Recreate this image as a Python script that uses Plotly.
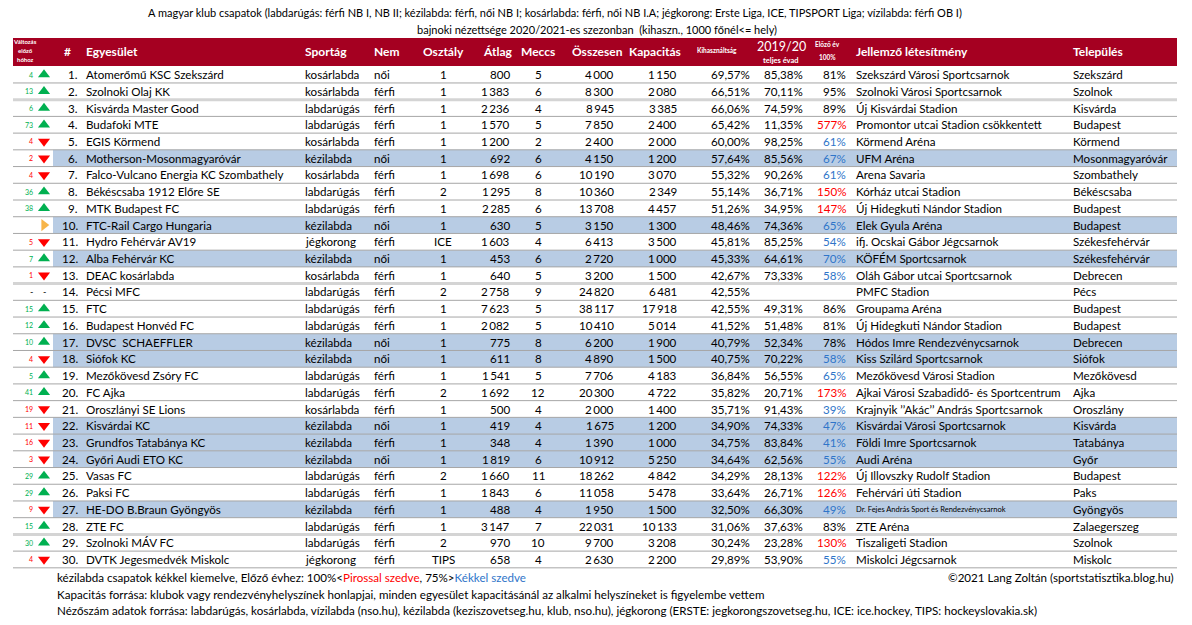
import plotly.graph_objects as go

# ---------------- data ----------------
ranks = list(range(1, 31))
change_vals = [4, 13, 6, 73, 4, 2, 4, 36, 38, None, 5, 7, 1, None, 15, 12, 10, 4, 5, 41,
               19, 11, 16, 3, 29, 29, 9, 15, 30, 4]
change_dir = ["up", "up", "up", "up", "down", "down", "down", "up", "up", "flat",
              "down", "up", "down", "none", "up", "up", "up", "down", "up", "up",
              "down", "down", "down", "down", "up", "up", "down", "up", "up", "down"]
clubs = ["Atomerőmű KSC Szekszárd", "Szolnoki Olaj KK", "Kisvárda Master Good", "Budafoki MTE",
         "EGIS Körmend", "Motherson-Mosonmagyaróvár", "Falco-Vulcano Energia KC Szombathely",
         "Békéscsaba 1912 Előre SE", "MTK Budapest FC", "FTC-Rail Cargo Hungaria",
         "Hydro Fehérvár AV19", "Alba Fehérvár KC", "DEAC kosárlabda", "Pécsi MFC", "FTC",
         "Budapest Honvéd FC", "DVSC  SCHAEFFLER", "Siófok KC", "Mezőkövesd Zsóry FC", "FC Ajka",
         "Oroszlányi SE Lions", "Kisvárdai KC", "Grundfos Tatabánya KC", "Győri Audi ETO KC",
         "Vasas FC", "Paksi FC", "HE-DO B.Braun Gyöngyös", "ZTE FC", "Szolnoki MÁV FC",
         "DVTK Jegesmedvék Miskolc"]
sports = ["kosárlabda", "kosárlabda", "labdarúgás", "labdarúgás", "kosárlabda", "kézilabda",
          "kosárlabda", "labdarúgás", "labdarúgás", "kézilabda", "jégkorong", "kézilabda",
          "kosárlabda", "labdarúgás", "labdarúgás", "labdarúgás", "kézilabda", "kézilabda",
          "labdarúgás", "labdarúgás", "kosárlabda", "kézilabda", "kézilabda", "kézilabda",
          "labdarúgás", "labdarúgás", "kézilabda", "labdarúgás", "labdarúgás", "jégkorong"]
gender = ["női", "férfi", "férfi", "férfi", "férfi", "női", "férfi", "férfi", "férfi", "női",
          "férfi", "női", "férfi", "férfi", "férfi", "férfi", "női", "női", "férfi", "férfi",
          "férfi", "női", "férfi", "női", "férfi", "férfi", "férfi", "férfi", "férfi", "férfi"]
division = ["1", "1", "1", "1", "1", "1", "1", "2", "1", "1", "ICE", "1", "1", "2", "1", "1",
            "1", "1", "1", "2", "1", "1", "1", "1", "2", "1", "1", "1", "2", "TIPS"]
avg = [800, 1383, 2236, 1570, 1200, 692, 1698, 1295, 2285, 630, 1603, 453, 640, 2758, 7623,
       2082, 775, 611, 1541, 1692, 500, 419, 348, 1819, 1660, 1843, 488, 3147, 970, 658]
matches = [5, 6, 4, 5, 2, 6, 6, 8, 6, 5, 4, 6, 5, 9, 5, 5, 8, 8, 5, 12, 4, 4, 4, 6, 11, 6,
           4, 7, 10, 4]
total = [4000, 8300, 8945, 7850, 2400, 4150, 10190, 10360, 13708, 3150, 6413, 2720, 3200,
         24820, 38117, 10410, 6200, 4890, 7706, 20300, 2000, 1675, 1390, 10912, 18262, 11058,
         1950, 22031, 9700, 2630]
capacity = [1150, 2080, 3385, 2400, 2000, 1200, 3070, 2349, 4457, 1300, 3500, 1000, 1500,
            6481, 17918, 5014, 1900, 1500, 4183, 4722, 1400, 1200, 1000, 5250, 4842, 5478,
            1500, 10133, 3208, 2200]
util = [69.57, 66.51, 66.06, 65.42, 60.00, 57.64, 55.32, 55.14, 51.26, 48.46, 45.81, 45.33,
        42.67, 42.55, 42.55, 41.52, 40.79, 40.75, 36.84, 35.82, 35.71, 34.90, 34.75, 34.64,
        34.29, 33.64, 32.50, 31.06, 30.24, 29.89]
prev_util = [85.38, 70.11, 74.59, 11.35, 98.25, 85.56, 90.26, 36.71, 34.95, 74.36, 85.25,
             64.61, 73.33, None, 49.31, 51.48, 52.34, 70.22, 56.55, 20.71, 91.43, 74.33,
             83.84, 62.56, 28.13, 26.71, 66.30, 37.63, 23.28, 53.90]
vs_prev = [81, 95, 89, 577, 61, 67, 61, 150, 147, 65, 54, 70, 58, None, 86, 81, 78, 58, 65,
           173, 39, 47, 41, 55, 122, 126, 49, 83, 130, 55]
venues = ["Szekszárd Városi Sportcsarnok", "Szolnoki Városi Sportcsarnok", "Új Kisvárdai Stadion",
          "Promontor utcai Stadion csökkentett", "Körmend Aréna", "UFM Aréna", "Arena Savaria",
          "Kórház utcai Stadion", "Új Hidegkuti Nándor Stadion", "Elek Gyula Aréna",
          "ifj. Ocskai Gábor Jégcsarnok", "KÖFÉM Sportcsarnok", "Oláh Gábor utcai Sportcsarnok",
          "PMFC Stadion", "Groupama Aréna", "Új Hidegkuti Nándor Stadion",
          "Hódos Imre Rendezvénycsarnok", "Kiss Szilárd Sportcsarnok", "Mezőkövesd Városi Stadion",
          "Ajkai Városi Szabadidő- és Sportcentrum", "Krajnyik ’’Akác’’ András Sportcsarnok",
          "Kisvárdai Városi Sportcsarnok", "Földi Imre Sportcsarnok", "Audi Aréna",
          "Új Illovszky Rudolf Stadion", "Fehérvári úti Stadion",
          "Dr. Fejes András Sport és Rendezvénycsarnok", "ZTE Aréna", "Tiszaligeti Stadion",
          "Miskolci Jégcsarnok"]
cities = ["Szekszárd", "Szolnok", "Kisvárda", "Budapest", "Körmend", "Mosonmagyaróvár",
          "Szombathely", "Békéscsaba", "Budapest", "Budapest", "Székesfehérvár", "Székesfehérvár",
          "Debrecen", "Pécs", "Budapest", "Budapest", "Debrecen", "Siófok", "Mezőkövesd", "Ajka",
          "Oroszlány", "Kisvárda", "Tatabánya", "Győr", "Budapest", "Paks", "Gyöngyös",
          "Zalaegerszeg", "Szolnok", "Miskolc"]

title_lines = ["A magyar klub csapatok (labdarúgás: férfi NB I, NB II; kézilabda: férfi, női NB I; "
               "kosárlabda: férfi, női NB I.A; jégkorong: Erste Liga, ICE, TIPSPORT Liga; vízilabda: férfi OB I)",
               "bajnoki nézettsége 2020/2021-es szezonban  (kihaszn., 1000 főnél<= hely)"]

# ---------------- style ----------------
FONT = "Lato"
FS = 11.6
HEAD_RED = "#A50021"
BLUE_FILL = "#B8CCE4"
GREEN = "#00B050"
RED = "#FF0000"
BLUE_TXT = "#2F75C9"
ORANGE = "#F7B54A"

W, H = 1192, 625
X_L, X_R = 13, 1177
Y_HEAD_TOP, Y_HEAD_BOT = 38, 66
Y_ROW1 = 74.6
ROW_H = 16.72


def row_y(r):
    return Y_ROW1 + (r - 1) * ROW_H


def fmt_int(v):
    return f"{v:,}".replace(",", "\u2009")


def fmt_pct(v):
    return f"{v:.2f}".replace(".", ",") + "%"


fig = go.Figure()
shapes = []
ann = []


def text(x, y, s, anchor="left", size=FS, color="black", bold=False):
    if bold:
        s = f"<b>{s}</b>"
    ann.append(dict(x=x, y=y, xref="x", yref="y", text=s, showarrow=False,
                    xanchor=anchor, yanchor="middle",
                    font=dict(family=FONT, size=size, color=color)))


# header band
shapes.append(dict(type="rect", xref="x", yref="y", x0=X_L, x1=X_R, y0=Y_HEAD_TOP,
                   y1=Y_HEAD_BOT, fillcolor=HEAD_RED, line=dict(width=0), layer="below"))

# highlighted (kézilabda) rows
for r, sp in zip(ranks, sports):
    if sp == "kézilabda":
        shapes.append(dict(type="rect", xref="x", yref="y", x0=53, x1=X_R,
                           y0=row_y(r) - ROW_H / 2, y1=row_y(r) + ROW_H / 2,
                           fillcolor=BLUE_FILL, line=dict(width=0), layer="below"))

# row separators
light_after = {2, 13, 28}
for r in ranks:
    yb = row_y(r) + ROW_H / 2
    if r in light_after:
        shapes.append(dict(type="line", xref="x", yref="y", x0=X_L, x1=X_R, y0=yb, y1=yb,
                           line=dict(color="#D4D4D4", width=3), layer="below"))
    else:
        shapes.append(dict(type="line", xref="x", yref="y", x0=X_L, x1=X_R, y0=yb, y1=yb,
                           line=dict(color="#A6A6A6", width=1), layer="below"))

# title
text(555, 12, title_lines[0], "center", 11)
text(597, 29, title_lines[1], "center", 11)

# header labels
HW = "white"
text(25, 41, "Változás", "center", 6, HW, True)
text(25, 50, "előző", "center", 6, HW, True)
text(25, 59, "hóhoz", "center", 6, HW, True)
hy = 51
text(67, hy, "#", "center", 12, HW, True)
text(84, hy, "Egyesület", "left", 12, HW, True)
text(303, hy, "Sportág", "left", 12, HW, True)
text(372, hy, "Nem", "left", 12, HW, True)
text(443, hy, "Osztály", "center", 12, HW, True)
text(497, hy, "Átlag", "center", 12, HW, True)
text(538, hy, "Meccs", "center", 12, HW, True)
text(597, hy, "Összesen", "center", 12, HW, True)
text(655, hy, "Kapacitás", "center", 12, HW, True)
text(717, hy - 1, "Kihasználtság", "center", 6.5, HW, True)
text(781, 46, "2019/20", "center", 12.5, HW, False)
text(781, 60, "teljes évad", "center", 7.5, HW, True)
text(827, 44, "Előző év", "center", 6.5, HW, True)
text(827, 57, "100%", "center", 6.5, HW, True)
text(854, hy, "Jellemző létesítmény", "left", 12, HW, True)
text(1071, hy, "Település", "left", 12, HW, True)

# body rows
tri_x, tri_y, tri_sym, tri_col = [], [], [], []
for i, r in enumerate(ranks):
    y = row_y(r)
    d = change_dir[i]
    if change_vals[i] is not None:
        text(35, y, str(change_vals[i]), "right", 7,
             GREEN if d == "up" else RED)
    if d == "none":
        text(31, y, "-", "center", 9)
        text(44, y, "-", "center", 9)
    else:
        tri_x.append(44)
        tri_y.append(y)
        tri_sym.append({"up": "triangle-up", "down": "triangle-down",
                        "flat": "triangle-right"}[d])
        tri_col.append({"up": GREEN, "down": RED, "flat": ORANGE}[d])
    text(80, y, f"{r}.", "right")
    text(84, y, clubs[i], "left")
    text(303, y, sports[i], "left")
    text(372, y, gender[i], "left")
    text(443, y, division[i], "center")
    text(512, y, fmt_int(avg[i]), "right")
    text(538, y, str(matches[i]), "center")
    text(616, y, fmt_int(total[i]), "right")
    text(679, y, fmt_int(capacity[i]), "right")
    text(752, y, fmt_pct(util[i]), "right")
    if prev_util[i] is not None:
        text(805, y, fmt_pct(prev_util[i]), "right")
    if vs_prev[i] is not None:
        v = vs_prev[i]
        col = RED if v > 100 else (BLUE_TXT if v < 75 else "black")
        text(848, y, f"{v}%", "right", FS, col)
    vsize = 7.5 if len(venues[i]) > 40 else FS
    text(854, y, venues[i], "left", vsize)
    text(1071, y, cities[i], "left")

fig.add_trace(go.Scatter(x=tri_x, y=tri_y, mode="markers",
                         marker=dict(symbol=tri_sym, color=tri_col, size=10.5,
                                     line=dict(width=0)),
                         hoverinfo="skip", showlegend=False))

# footer
fy1 = 577
text(55, fy1, "kézilabda csapatok kékkel kiemelve, Előző évhez: 100%&lt;"
     f"<span style='color:{RED}'>Pirossal szedve</span>, 75%&gt;"
     f"<span style='color:{BLUE_TXT}'>Kékkel szedve</span>", "left", FS)
text(1176, fy1, "©2021 Lang Zoltán (sportstatisztika.blog.hu)", "right", FS)
text(55, 594, "Kapacitás forrása: klubok vagy rendezvényhelyszínek honlapjai, minden egyesület "
     "kapacitásánál az alkalmi helyszíneket is figyelembe vettem", "left", FS)
text(55, 610, "Nézőszám adatok forrása: labdarúgás, kosárlabda, vízilabda (nso.hu), kézilabda "
     "(keziszovetseg.hu, klub, nso.hu), jégkorong (ERSTE: jegkorongszovetseg.hu, ICE: ice.hockey, "
     "TIPS: hockeyslovakia.sk)", "left", FS)

fig.update_layout(
    width=W, height=H,
    margin=dict(l=0, r=0, t=0, b=0),
    paper_bgcolor="white", plot_bgcolor="white",
    hovermode=False,
    xaxis=dict(range=[0, W], visible=False, fixedrange=True),
    yaxis=dict(range=[H, 0], visible=False, fixedrange=True),
    shapes=shapes, annotations=ann,
    font=dict(family=FONT, size=FS, color="black"),
)

# remove the browser's default 8px body margin so the figure fills the window
fig.write_html("out.html",
               config={"displayModeBar": False, "staticPlot": True},
               post_script="document.body.style.margin='0';"
                           "document.documentElement.style.overflow='hidden';")
